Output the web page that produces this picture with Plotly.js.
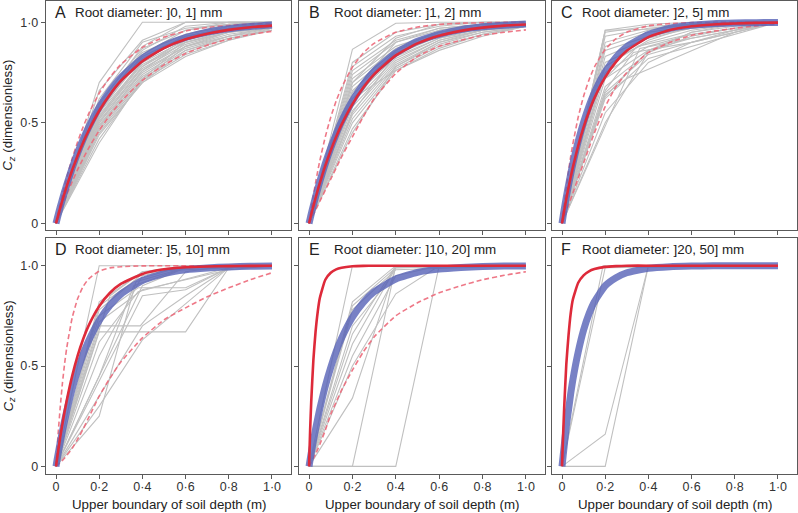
<!DOCTYPE html>
<html>
<head>
<meta charset="utf-8">
<script src="https://cdn.plot.ly/plotly-3.0.1.min.js"></script>
<style>body{margin:0;background:#fff}#plot{width:798px;height:513px}</style>
</head>
<body>
<div id="plot"></div>
<script>
// soil depth layers of the measured profiles
var depths = [0, 0.2, 0.4, 0.6, 0.8, 1.0];
var xTicks = [0, 0.2, 0.4, 0.6, 0.8, 1.0];
var xTickText = ["0", "0·2", "0·4", "0·6", "0·8", "1·0"];
var yTicks = [0, 0.5, 1.0];
var yTickText = ["0", "0·5", "1·0"];
var classes = ["]0, 1]", "]1, 2]", "]2, 5]", "]5, 10]", "]10, 20]", "]20, 50]"];
var letters = ["A", "B", "C", "D", "E", "F"];

// x positions of the fitted curves
var fitX = [0, 0.005, 0.01, 0.02, 0.03, 0.04, 0.05, 0.075, 0.1, 0.125, 0.15, 0.2, 0.25, 0.3, 0.4, 0.5, 0.6, 0.7, 0.8, 0.9, 1.0];

var blueA = [0, 0.021, 0.042, 0.083, 0.121, 0.158, 0.193, 0.276, 0.35, 0.416, 0.475, 0.577, 0.659, 0.725, 0.821, 0.884, 0.924, 0.951, 0.968, 0.979, 0.986];
var redA = [0, 0.020, 0.040, 0.079, 0.116, 0.152, 0.186, 0.265, 0.336, 0.401, 0.459, 0.560, 0.641, 0.708, 0.806, 0.871, 0.915, 0.943, 0.962, 0.975, 0.983];
var upA = [0, 0.026, 0.051, 0.099, 0.145, 0.188, 0.229, 0.323, 0.405, 0.478, 0.542, 0.647, 0.727, 0.790, 0.875, 0.926, 0.956, 0.974, 0.984, 0.991, 0.994];
var lowA = [0, 0.015, 0.031, 0.060, 0.089, 0.116, 0.144, 0.207, 0.267, 0.321, 0.372, 0.462, 0.539, 0.605, 0.711, 0.788, 0.844, 0.886, 0.916, 0.939, 0.955];

var blueB = [0, 0.023, 0.046, 0.090, 0.132, 0.171, 0.209, 0.297, 0.375, 0.444, 0.506, 0.609, 0.691, 0.756, 0.847, 0.905, 0.940, 0.963, 0.977, 0.985, 0.991];
var redB = [0, 0.022, 0.044, 0.086, 0.126, 0.165, 0.201, 0.287, 0.362, 0.430, 0.491, 0.593, 0.675, 0.741, 0.835, 0.895, 0.933, 0.957, 0.973, 0.983, 0.989];
var upB = [0, 0.037, 0.072, 0.139, 0.201, 0.259, 0.313, 0.430, 0.528, 0.608, 0.675, 0.777, 0.847, 0.895, 0.950, 0.976, 0.989, 0.995, 0.997, 0.999, 1.0];
var lowB = [0, 0.011, 0.022, 0.044, 0.066, 0.088, 0.11, 0.165, 0.22, 0.275, 0.33, 0.43, 0.53, 0.62, 0.745, 0.83, 0.88, 0.91, 0.935, 0.95, 0.962];

var blueC = [0, 0.034, 0.068, 0.131, 0.189, 0.244, 0.295, 0.408, 0.503, 0.583, 0.650, 0.753, 0.826, 0.878, 0.939, 0.970, 0.985, 0.993, 0.996, 0.998, 0.999];
var redC = [0, 0.032, 0.063, 0.122, 0.177, 0.229, 0.277, 0.386, 0.478, 0.556, 0.623, 0.727, 0.803, 0.858, 0.926, 0.961, 0.980, 0.989, 0.994, 0.997, 0.998];
var upC = [0, 0.049, 0.095, 0.181, 0.259, 0.330, 0.393, 0.528, 0.632, 0.713, 0.777, 0.865, 0.918, 0.950, 0.982, 0.993, 0.998, 0.999, 1.0, 1.0, 1.0];
var lowC = [0, 0.015, 0.03, 0.06, 0.09, 0.12, 0.15, 0.225, 0.30, 0.375, 0.45, 0.58, 0.68, 0.75, 0.85, 0.90, 0.935, 0.955, 0.97, 0.982, 0.99];

var blueD = [0, 0.032, 0.063, 0.122, 0.177, 0.229, 0.277, 0.386, 0.478, 0.556, 0.623, 0.727, 0.803, 0.858, 0.926, 0.961, 0.980, 0.989, 0.994, 0.997, 0.998];
var redD = [0, 0.039, 0.077, 0.148, 0.213, 0.274, 0.330, 0.451, 0.551, 0.632, 0.699, 0.798, 0.865, 0.909, 0.959, 0.982, 0.992, 0.996, 0.998, 0.999, 1.0];
var upD = [0, 0.086, 0.165, 0.30, 0.417, 0.513, 0.593, 0.741, 0.835, 0.895, 0.933, 0.973, 0.989, 0.995, 0.999, 1.0, 1.0, 1.0, 1.0, 1.0, 1.0];
var lowD = [0, 0.004, 0.009, 0.02, 0.03, 0.042, 0.055, 0.09, 0.135, 0.185, 0.24, 0.35, 0.44, 0.52, 0.64, 0.73, 0.79, 0.845, 0.89, 0.93, 0.965];

var blueE = [0, 0.034, 0.066, 0.127, 0.185, 0.238, 0.288, 0.400, 0.493, 0.573, 0.639, 0.743, 0.817, 0.870, 0.934, 0.967, 0.983, 0.991, 0.996, 0.998, 0.999];
var redE = [0, 0.18, 0.32, 0.53, 0.67, 0.77, 0.84, 0.93, 0.965, 0.982, 0.99, 0.997, 0.999, 1.0, 1.0, 1.0, 1.0, 1.0, 1.0, 1.0, 1.0];
var lowE = [0, 0.01, 0.02, 0.04, 0.062, 0.085, 0.11, 0.18, 0.26, 0.32, 0.38, 0.48, 0.57, 0.645, 0.75, 0.815, 0.865, 0.90, 0.93, 0.952, 0.97];

var blueF = [0, 0.05, 0.10, 0.20, 0.28, 0.36, 0.43, 0.57, 0.68, 0.76, 0.82, 0.90, 0.94, 0.965, 0.987, 0.995, 0.998, 1.0, 1.0, 1.0, 1.0];
var redF = [0, 0.15, 0.29, 0.51, 0.65, 0.76, 0.83, 0.915, 0.952, 0.972, 0.983, 0.994, 0.998, 1.0, 1.0, 1.0, 1.0, 1.0, 1.0, 1.0, 1.0];

// measured profiles, Cz at each depth
var grayA = [
  [0,0.70,1.00,1.00,1.00,1.00], [0,0.66,0.91,1.00,1.00,1.00], [0,0.62,0.90,0.97,0.99,1.00],
  [0,0.60,0.87,0.96,0.99,1.00], [0,0.59,0.88,1.00,1.00,1.00], [0,0.58,0.85,0.94,0.98,0.99],
  [0,0.57,0.86,0.98,1.00,1.00], [0,0.57,0.83,0.93,0.97,0.99], [0,0.56,0.82,0.92,0.96,0.98],
  [0,0.55,0.84,0.96,1.00,1.00], [0,0.55,0.80,0.91,0.96,0.98], [0,0.54,0.79,0.90,0.95,0.98],
  [0,0.53,0.81,0.93,0.97,0.99], [0,0.53,0.78,0.90,0.95,0.97], [0,0.52,0.77,0.89,0.95,0.97],
  [0,0.52,0.80,0.94,0.99,1.00], [0,0.51,0.76,0.88,0.94,0.97], [0,0.50,0.75,0.88,0.93,0.97],
  [0,0.50,0.78,0.92,0.98,1.00], [0,0.49,0.74,0.87,0.93,0.96], [0,0.48,0.73,0.86,0.92,0.96],
  [0,0.48,0.76,0.91,0.97,0.99], [0,0.47,0.72,0.85,0.92,0.96], [0,0.46,0.71,0.84,0.91,0.96],
  [0,0.45,0.70,0.83,0.91,0.97], [0,0.44,0.70,0.86,0.93,0.98], [0,0.42,0.71,0.88,0.95,0.99],
  [0,0.40,0.72,0.90,0.96,0.99]
];
var grayB = [
  [0,0.865,0.995,1,1,1], [0,0.80,0.95,0.99,1,1], [0,0.78,0.93,0.98,1,1], [0,0.76,0.91,0.97,0.99,1],
  [0,0.74,0.90,0.96,0.99,1], [0,0.72,0.88,0.95,0.98,0.99], [0,0.70,0.92,0.99,1,1],
  [0,0.70,0.87,0.95,0.98,0.99], [0,0.68,0.86,0.94,0.98,0.99], [0,0.66,0.85,0.93,0.97,0.99],
  [0,0.65,0.90,0.97,0.99,1], [0,0.64,0.84,0.93,0.97,0.99], [0,0.62,0.83,0.92,0.97,0.99],
  [0,0.62,0.76,0.86,0.93,0.98], [0,0.60,0.82,0.92,0.96,0.99], [0,0.60,0.86,0.96,0.99,1],
  [0,0.58,0.81,0.91,0.96,0.98], [0,0.56,0.80,0.91,0.96,0.98], [0,0.55,0.84,0.95,0.99,1],
  [0,0.54,0.79,0.90,0.95,0.98], [0,0.52,0.78,0.89,0.95,0.98], [0,0.50,0.77,0.88,0.94,0.98],
  [0,0.47,0.76,0.87,0.94,0.98], [0,0.45,0.78,0.90,0.96,0.99]
];
var grayC = [
  [0,0.96,0.99,1,1,1], [0,0.95,0.98,0.99,1,1], [0,0.93,0.97,0.99,1,1], [0,0.90,0.96,0.99,1,1],
  [0,0.88,0.95,0.98,0.99,1], [0,0.86,0.93,0.97,0.99,1], [0,0.83,0.92,0.97,0.99,1],
  [0,0.80,0.90,0.96,0.99,1], [0,0.78,0.91,0.98,1,1], [0,0.75,0.88,0.94,0.97,1],
  [0,0.72,0.86,0.92,0.96,1], [0,0.68,0.85,0.93,0.97,1], [0,0.65,0.84,0.90,0.95,1],
  [0,0.63,0.86,0.95,0.98,1], [0,0.62,0.82,0.88,0.94,1], [0,0.55,0.80,0.90,0.96,1],
  [0,0.50,0.85,0.95,0.99,1]
];
// profiles sampled at other depths, as [depth, Cz] pairs
var oddC = [
  [[0,0],[0.2,0.64],[0.3,0.72],[0.8,0.95],[1,1]],
  [[0,0],[0.2,0.66],[0.33,0.85],[0.6,0.90],[1,1]],
  [[0,0],[0.18,0.70],[0.35,0.88],[0.55,0.93],[0.8,0.97],[1,1]],
  [[0,0],[0.36,0.87],[0.6,0.92],[1,1]],
  [[0,0],[0.2,0.96],[0.4,0.965],[0.6,0.99],[1,1]]
];
var oddD = [
  [[0,0],[0.2,1.0],[1,1]],
  [[0,0],[0.2,0.70],[0.39,0.70],[0.6,0.97],[0.8,1.0],[1,1]],
  [[0,0],[0.2,0.67],[0.6,0.67],[0.8,0.99],[1,1]],
  [[0,0],[0.2,0.25],[0.37,0.92],[0.6,0.99],[1,1]],
  [[0,0],[0.2,0.80],[0.37,0.93],[0.6,1.0],[1,1]],
  [[0,0],[0.2,0.75],[0.38,0.89],[0.6,0.89],[0.8,0.99],[1,1]],
  [[0,0],[0.2,0.72],[0.4,0.88],[0.8,0.98],[1,1]],
  [[0,0],[0.2,0.62],[0.38,0.87],[0.8,0.99],[1,1]],
  [[0,0],[0.2,0.55],[0.4,0.95],[0.6,1.0],[1,1]],
  [[0,0],[0.2,0.45],[0.36,0.90],[0.6,0.99],[1,1]],
  [[0,0],[0.2,0.35],[0.4,0.70],[0.6,0.85],[0.8,0.99],[1,1]],
  [[0,0],[0.2,0.78],[0.4,0.96],[0.6,0.99],[1,1]],
  [[0,0],[0.2,0.82],[0.4,0.97],[0.6,1.0],[1,1]],
  [[0,0],[0.4,0.90],[0.6,0.99],[1,1]],
  [[0,0],[0.4,0.85],[0.6,0.88],[0.8,0.99],[1,1]],
  [[0,0],[0.2,0.68],[0.25,0.85],[0.4,0.97],[1,1]],
  [[0,0],[0.2,0.30],[0.4,0.63],[0.8,0.99],[1,1]]
];
var oddE = [
  [[0,0],[0.2,0],[0.4,1.0],[1,1]],
  [[0,0],[0.2,0],[0.4,0],[0.6,1.0],[1,1]],
  [[0,0],[0.2,1.0],[1,1]],
  [[0,0],[0.2,0.82],[0.4,1.0],[1,1]],
  [[0,0],[0.2,0.80],[0.4,0.99],[1,1]],
  [[0,0],[0.2,0.78],[0.4,0.98],[1,1]],
  [[0,0],[0.2,0.66],[0.4,1.0],[1,1]],
  [[0,0],[0.2,0.61],[0.4,0.99],[1,1]],
  [[0,0],[0.2,0.34],[0.4,0.99],[1,1]],
  [[0,0],[0.2,0.50],[0.4,0.86],[0.6,1.0],[1,1]],
  [[0,0],[0.2,0.55],[0.4,0.95],[0.6,1.0],[1,1]],
  [[0,0],[0.2,0.70],[0.35,0.90],[0.4,1.0],[1,1]]
];
var oddF = [
  [[0,0],[0.2,0],[0.4,1.0],[1,1]],
  [[0,0],[0.2,0.16],[0.4,1.0],[1,1]],
  [[0,0],[0.2,0.99],[1,1]],
  [[0,0],[0.19,1.0],[1,1]]
];

var panels = [
  {gray: grayA, odd: [], blue: blueA, red: redA, up: upA, low: lowA},
  {gray: grayB, odd: [], blue: blueB, red: redB, up: upB, low: lowB},
  {gray: grayC, odd: oddC, blue: blueC, red: redC, up: upC, low: lowC},
  {gray: [], odd: oddD, blue: blueD, red: redD, up: upD, low: lowD},
  {gray: [], odd: oddE, blue: blueE, red: redE, up: null, low: lowE},
  {gray: [], odd: oddF, blue: blueF, red: redF, up: null, low: null}
];

var W = 798, H = 513;
var colPx = [[46, 291], [299, 545], [552, 797]];
var rowPx = [[0.5, 230], [238, 474]];
var yRanges = [[-0.033, 1.108], [-0.038, 1.138]];
var letterOff = [7, 8, 7];
var textOff = [27, 33, 28];

var grayLine = {color: "rgb(192,192,192)", width: 1.1};
var dashLine = {color: "rgba(236,105,122,0.9)", width: 1.6, dash: "5px,3px", shape: "spline", smoothing: 0.5};
var blueLine = {color: "rgba(86,98,182,0.8)", width: 7, shape: "spline", smoothing: 0.5};
var redLine = {color: "rgb(222,42,58)", width: 2.6, shape: "spline", smoothing: 0.5};

var traces = [];
function addLine(xs, ys, sfx, line) {
  traces.push({x: xs, y: ys, xaxis: "x" + sfx, yaxis: "y" + sfx, mode: "lines",
    line: line, hoverinfo: "skip", showlegend: false});
}

var fontFam = '"Liberation Sans", Arial, Helvetica, sans-serif';
var layout = {
  width: W, height: H,
  margin: {l: 0, r: 0, t: 0, b: 0},
  paper_bgcolor: "#fff", plot_bgcolor: "#fff",
  font: {family: fontFam, size: 13, color: "#333"},
  showlegend: false,
  annotations: []
};

panels.forEach(function (p, i) {
  var sfx = i ? String(i + 1) : "";
  var col = i % 3, row = Math.floor(i / 3);
  p.gray.forEach(function (g) { addLine(depths, g, sfx, grayLine); });
  p.odd.forEach(function (g) {
    addLine(g.map(function (d) { return d[0]; }), g.map(function (d) { return d[1]; }), sfx, grayLine);
  });
  if (p.up) addLine(fitX, p.up, sfx, dashLine);
  if (p.low) addLine(fitX, p.low, sfx, dashLine);
  addLine(fitX, p.blue, sfx, blueLine);
  addLine(fitX, p.red, sfx, redLine);

  var axCommon = {showgrid: false, zeroline: false, showline: true, mirror: true,
    linecolor: "#5a5a5a", linewidth: 1.2, ticks: "outside", ticklen: 4, tickwidth: 1,
    tickcolor: "#5a5a5a", tickfont: {size: 12.5, color: "#333"}, fixedrange: true};
  layout["xaxis" + sfx] = Object.assign({}, axCommon, {
    domain: [colPx[col][0] / W, colPx[col][1] / W],
    range: [-0.0463, 1.088], anchor: "y" + sfx,
    tickmode: "array", tickvals: xTicks, ticktext: xTickText,
    showticklabels: row === 1, ticklabelstandoff: -3
  });
  layout["yaxis" + sfx] = Object.assign({}, axCommon, {
    domain: [1 - rowPx[row][1] / H, 1 - rowPx[row][0] / H],
    range: yRanges[row], anchor: "x" + sfx,
    tickmode: "array", tickvals: yTicks, ticktext: yTickText,
    showticklabels: col === 0
  });

  var ty = 1 - (rowPx[row][0] + 11.5) / H;
  layout.annotations.push({xref: "paper", yref: "paper", x: (colPx[col][0] + letterOff[col]) / W, y: ty,
    xanchor: "left", yanchor: "middle", showarrow: false, text: letters[i],
    font: {size: 16, color: "#222"}});
  layout.annotations.push({xref: "paper", yref: "paper", x: (colPx[col][0] + textOff[col]) / W, y: ty,
    xanchor: "left", yanchor: "middle", showarrow: false,
    text: "Root diameter: " + classes[i] + " mm", font: {size: 13.4, color: "#222"}});

  if (row === 1) {
    layout.annotations.push({xref: "paper", yref: "paper", x: (colPx[col][0] + colPx[col][1]) / 2 / W,
      y: 1 - 504.5 / H, xanchor: "center", yanchor: "middle", showarrow: false,
      text: "Upper boundary of soil depth (m)", font: {size: 13.3, color: "#222"}});
  }
  if (col === 0) {
    layout.annotations.push({xref: "paper", yref: "paper", x: 8.5 / W,
      y: 1 - (rowPx[row][0] + rowPx[row][1]) / 2 / H, xanchor: "center", yanchor: "middle",
      textangle: -90, showarrow: false,
      text: "<i>C<sub>z</sub></i> (dimensionless)", font: {size: 13.3, color: "#222"}});
  }
});

Plotly.newPlot("plot", traces, layout, {displayModeBar: false, staticPlot: true});
</script>
</body>
</html>
